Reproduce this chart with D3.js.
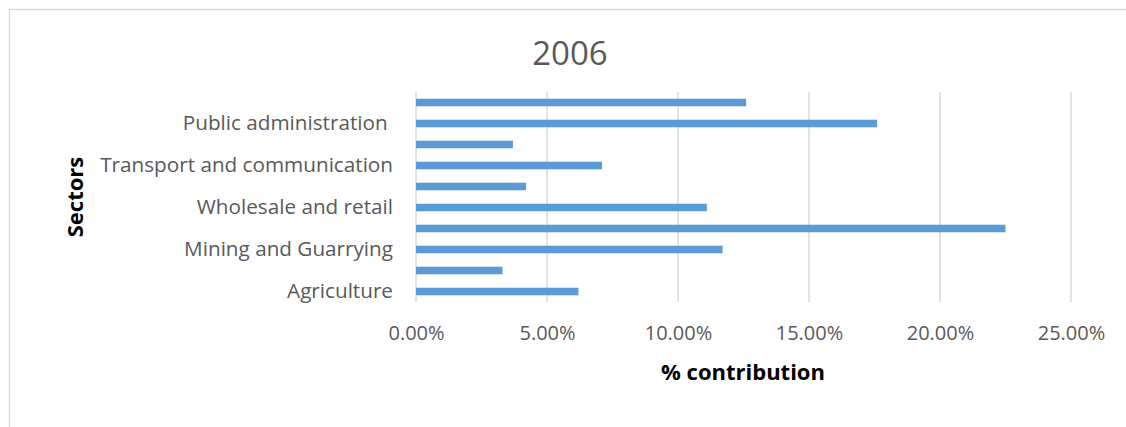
<!DOCTYPE html>
<html>
<head>
<meta charset="utf-8">
<script src="https://cdn.jsdelivr.net/npm/d3@7"></script>
<style>
    html, body { margin: 0; padding: 0; background: #fff; }
    svg { display: block; }
    svg text { font-family: 'Open Sans', sans-serif; }
</style>
</head>
<body>
<div id="chart"></div>
<script>
// bottom to top (unlabelled bars have no visible name)
const categories = ['Agriculture', '', 'Mining and Guarrying', '', 'Wholesale and retail', '',
    'Transport and communication', '', 'Public administration ', ''];
const values = [0.062, 0.033, 0.117, 0.225, 0.111, 0.042, 0.071, 0.037, 0.176, 0.126];
const xTicks = [0, 0.05, 0.10, 0.15, 0.20, 0.25];
const title = '2006';

const width = 1126,
    height = 427,
    margin = {top: 92, right: 55, bottom: 125, left: 416};

const svg = d3.select('#chart').append('svg')
    .attr('width', width)
    .attr('height', height);

// chart area border (only top/left visible in frame)
svg.append('rect')
    .attr('x', 9.5).attr('y', 9.5)
    .attr('width', width + 20).attr('height', height + 20)
    .attr('fill', 'none')
    .attr('stroke', '#d9d9d9')
    .attr('stroke-width', 1.5);

const x = d3.scaleLinear()
    .domain([0, 0.25])
    .range([margin.left, width - margin.right]);

const y = d3.scaleBand()
    .domain(d3.range(values.length))
    .range([height - margin.bottom, margin.top])
    .paddingInner(0.64)
    .paddingOuter(0.32);

// gridlines
svg.append('g')
    .selectAll('line')
    .data(xTicks)
    .join('line')
    .attr('x1', d => x(d)).attr('x2', d => x(d))
    .attr('y1', margin.top).attr('y2', height - margin.bottom)
    .attr('stroke', '#d9d9d9')
    .attr('stroke-width', 1.5);

// x axis tick labels
const xAxis = svg.append('g')
    .attr('transform', 'translate(0,' + (height - margin.bottom) + ')')
    .call(d3.axisBottom(x).tickValues(xTicks).tickFormat(d3.format('.2%')).tickSize(0).tickPadding(24));
xAxis.select('.domain').remove();
xAxis.selectAll('text')
    .attr('fill', '#595959')
    .style('font-size', '20px');

// y axis category labels
const yAxis = svg.append('g')
    .attr('transform', 'translate(' + margin.left + ',0)')
    .call(d3.axisLeft(y).tickFormat(i => categories[i]).tickSize(0).tickPadding(23));
yAxis.select('.domain').remove();
yAxis.selectAll('text')
    .attr('fill', '#595959')
    .style('font-size', '20.7px')
    .style('white-space', 'pre');

// bars
svg.append('g')
    .selectAll('rect')
    .data(values)
    .join('rect')
    .attr('x', x(0))
    .attr('y', (d, i) => y(i))
    .attr('width', d => x(d) - x(0))
    .attr('height', y.bandwidth())
    .attr('fill', '#5b9bd5');

// title
svg.append('text')
    .attr('x', 570)
    .attr('y', 65)
    .attr('text-anchor', 'middle')
    .attr('fill', '#595959')
    .style('font-size', '33px')
    .text(title);

// axis titles
svg.append('text')
    .attr('x', 743)
    .attr('y', 380)
    .attr('text-anchor', 'middle')
    .attr('fill', '#000')
    .style('font-size', '22px')
    .style('font-weight', 'bold')
    .text('% contribution');

svg.append('text')
    .attr('transform', 'translate(83,197) rotate(-90)')
    .attr('text-anchor', 'middle')
    .attr('fill', '#000')
    .style('font-size', '22px')
    .style('font-weight', 'bold')
    .text('Sectors');
</script>
</body>
</html>
